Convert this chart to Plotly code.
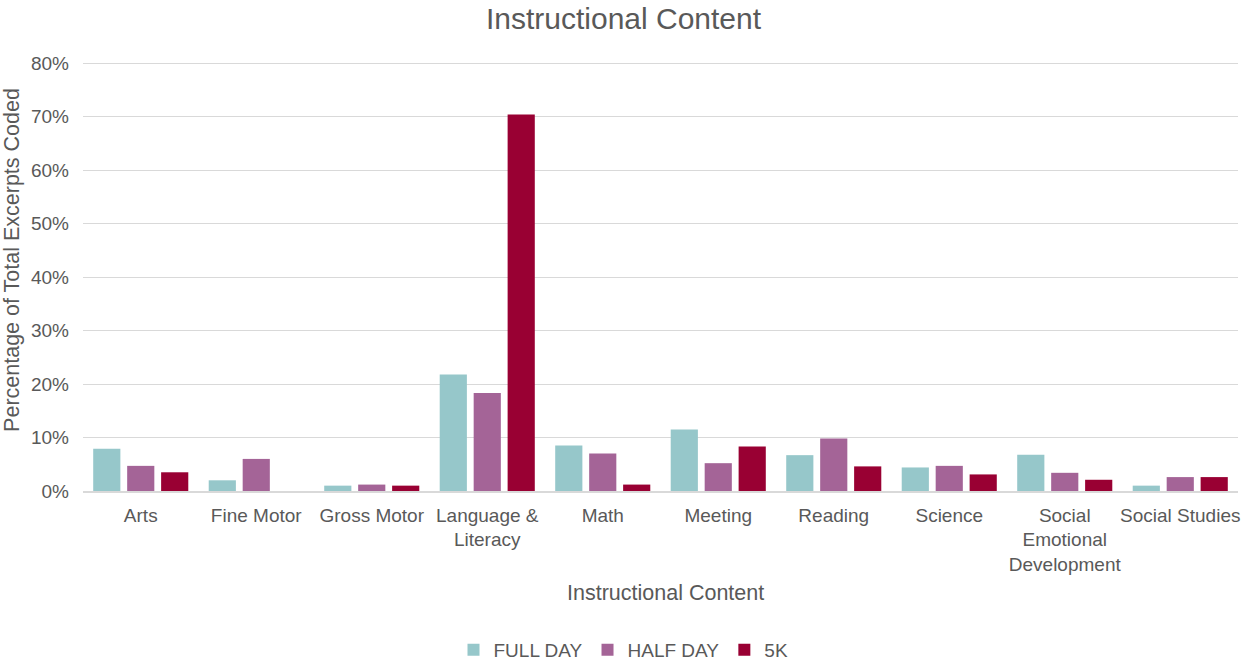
import plotly.graph_objects as go

categories = ["Arts", "Fine Motor", "Gross Motor", "Language &<br>Literacy", "Math",
              "Meeting", "Reading", "Science", "Social<br>Emotional<br>Development", "Social Studies"]
full_day = [7.9, 2.0, 1.0, 21.8, 8.5, 11.5, 6.7, 4.4, 6.8, 1.0]
half_day = [4.7, 6.0, 1.2, 18.3, 7.0, 5.2, 9.8, 4.7, 3.4, 2.6]
five_k = [3.5, 0.0, 1.0, 70.4, 1.2, 8.3, 4.6, 3.1, 2.1, 2.6]
y_ticks = [0, 10, 20, 30, 40, 50, 60, 70, 80]
y_tick_labels = [f"{v}%" for v in y_ticks]

colors = {"FULL DAY": "#96C7CA", "HALF DAY": "#A46497", "5K": "#990033"}
FONT = "Liberation Sans, Arial, sans-serif"
GRAY = "#595959"

fig = go.Figure()
for name, vals in [("FULL DAY", full_day), ("HALF DAY", half_day), ("5K", five_k)]:
    fig.add_trace(go.Bar(x=categories, y=vals, name=name,
                         marker=dict(color=colors[name], line=dict(width=0))))

fig.update_layout(
    width=1247, height=660,
    paper_bgcolor="white", plot_bgcolor="white",
    margin=dict(l=83, r=7, t=62, b=168.5),
    barmode="group", bargap=0.118, bargroupgap=0.2,
    font=dict(family=FONT, color=GRAY, size=19),
    title=dict(text="Instructional Content", x=0.5, xref="container", xanchor="center",
               y=1 - 18 / 660, yref="container", yanchor="middle",
               font=dict(size=30, color=GRAY, family=FONT)),
    showlegend=True,
    legend=dict(orientation="h", x=0.5, xref="container", xanchor="center",
                y=1 - 650 / 660, yref="container", yanchor="middle",
                font=dict(size=19, color=GRAY), itemwidth=30, traceorder="normal"),
    xaxis=dict(showgrid=False, showline=True, linecolor="#d9d9d9", linewidth=1.5,
               ticks="", tickfont=dict(size=19, color=GRAY), tickangle=0,
               ticklabelstandoff=6),
    yaxis=dict(range=[0, 80.2], tickvals=y_ticks, ticktext=y_tick_labels, showgrid=True,
               gridcolor="#d9d9d9", gridwidth=1, zeroline=False, showline=False,
               ticks="", tickfont=dict(size=19, color=GRAY), ticklabelstandoff=13),
    annotations=[
        dict(text="Percentage of Total Excerpts Coded", xref="paper", yref="paper",
             x=(12 - 83) / 1157, y=(491.5 - 260) / 429.5, textangle=-90,
             showarrow=False, xanchor="center", yanchor="middle",
             font=dict(size=21.5, color=GRAY, family=FONT)),
        dict(text="Instructional Content", xref="paper", yref="paper",
             x=(667 - 83) / 1157, y=(491.5 - 594) / 429.5,
             showarrow=False, xanchor="center", yanchor="middle",
             font=dict(size=21.5, color=GRAY, family=FONT)),
    ],
)

fig.write_html("out.html")
